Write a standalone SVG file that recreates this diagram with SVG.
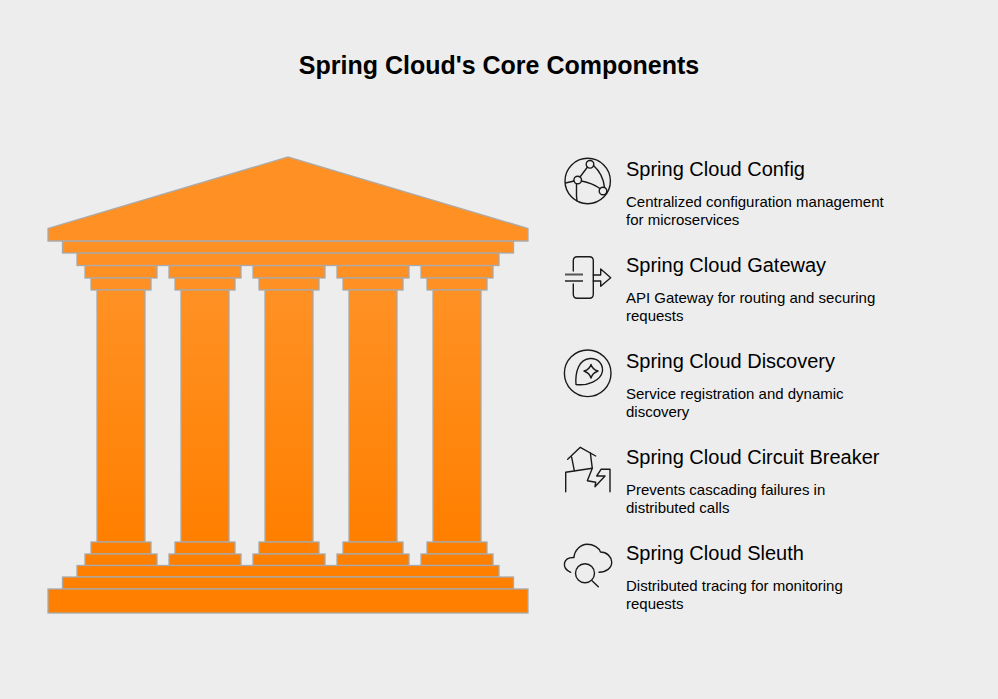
<svg xmlns="http://www.w3.org/2000/svg" width="998" height="699" viewBox="0 0 998 699">
<style>
text{font-family:"Liberation Sans",Arial,sans-serif;fill:#000}
.t{font-size:25px;font-weight:700}
.h{font-size:20px}
.d{font-size:15px}
.top{fill:#ff9124;stroke:#aaa;stroke-width:1.3}
.bot{fill:#ff7f00;stroke:#aaa;stroke-width:1.3}
.col{fill:url(#g);stroke:#aaa;stroke-width:1.3}
.i{fill:none;stroke:#1a1a1a;stroke-width:1.4;stroke-linecap:round;stroke-linejoin:round}
</style>
<defs>
<linearGradient id="g" x1="0" y1="0" x2="0" y2="1"><stop offset="0" stop-color="#ff9124"/><stop offset="1" stop-color="#ff7f00"/></linearGradient>
<g id="c1"><rect class="top" x="85" y="265.500" width="72" height="12.500"/><rect class="top" x="91" y="278" width="60" height="12"/><rect class="col" x="97" y="290" width="48" height="252"/><rect class="bot" x="91" y="542" width="60" height="12"/><rect class="bot" x="85" y="554" width="72" height="11.500"/></g>
</defs>
<rect width="998" height="699" fill="#ededed"/>
<text class="t" x="499" y="74" text-anchor="middle">Spring Cloud's Core Components</text>
<g id="temple">
<use href="#c1"/><use href="#c1" x="84"/><use href="#c1" x="168"/><use href="#c1" x="252"/><use href="#c1" x="336"/>
<rect class="top" x="77" y="253" width="422" height="12.500"/>
<rect class="top" x="62.500" y="241" width="451" height="12"/>
<path class="top" d="M48 241V228.500L288 157L528 228.500V241Z"/>
<rect class="bot" x="77" y="565.500" width="422" height="11.500"/>
<rect class="bot" x="62.500" y="577" width="451" height="12"/>
<rect class="bot" x="48" y="589" width="480" height="24"/>
</g>
<g id="node-config">
<circle class="i" cx="587.700" cy="181" r="22.700"/>
<circle class="i" cx="590" cy="164.300" r="3.800"/><circle class="i" cx="577.700" cy="180" r="3.800"/><circle class="i" cx="603" cy="191" r="3.800"/>
<path class="i" d="M587.500 167L580 177M581.500 181Q592 183 600 188.500M593.500 165.500Q603 174 604.500 187.300M574 181L565.500 183M576.500 184V196L577 201"/>
<text class="h" x="626" y="176">Spring Cloud Config</text>
<text class="d" x="626" y="207">Centralized configuration management</text>
<text class="d" x="626" y="225">for microservices</text>
</g>
<g id="node-gateway">
<path class="i" d="M573.300 271V260.700Q573.300 256.700 577.300 256.700H589.300Q593.300 256.700 593.300 260.700V294.300Q593.300 298.300 589.300 298.300H577.300Q573.300 298.300 573.300 294.300V284"/>
<path d="M565 274.500H583M565 281H583" fill="none" stroke="#555" stroke-width="1.800"/>
<path class="i" d="M593.300 275H600.700V269L610.700 277.700L600.700 286.300V281H593.300"/>
<text class="h" x="626" y="272">Spring Cloud Gateway</text>
<text class="d" x="626" y="303">API Gateway for routing and securing</text>
<text class="d" x="626" y="321">requests</text>
</g>
<g id="node-discovery">
<circle class="i" cx="587.700" cy="373.300" r="23.300"/>
<path class="i" d="M576 384.500C575 372 579 359 590 358.500C598 358 603 364 602.500 371C601 381 587 386 576 384.500Z"/>
<path class="i" d="M591 364.500C592 368 594 370 598 371C594 372.500 592 374.500 591 378C590 374.500 588 372.500 584 371C588 370 590 368 591 364.500Z"/>
<text class="h" x="626" y="368">Spring Cloud Discovery</text>
<text class="d" x="626" y="399">Service registration and dynamic</text>
<text class="d" x="626" y="417">discovery</text>
</g>
<g id="node-breaker">
<path class="i" d="M567.700 459.300L580.300 447.300L595.700 456M571.700 457.300L574.300 470.700M590.300 452.700L592.300 468.300"/>
<path class="i" d="M565.700 491.700V472.300L592.300 468.300L587.300 480.700L595.700 482.300L595 486.700L605 476H596.700L601 469.300H610V491.700"/>
<text class="h" x="626" y="464">Spring Cloud Circuit Breaker</text>
<text class="d" x="626" y="495">Prevents cascading failures in</text>
<text class="d" x="626" y="513">distributed calls</text>
</g>
<g id="node-sleuth">
<path class="i" d="M570.700 572.300C565.500 570 564 566 564.500 563C565.500 559 569 557.300 574 557.500C574.500 550 581 544.300 587 544.300C594 544.300 599 548 600.500 552C607 552 611.500 557 611.700 562C612 568 606 572.300 599 572.300"/>
<circle class="i" cx="585" cy="573.300" r="9.500"/>
<path class="i" d="M592.300 581L598.300 586.700"/>
<text class="h" x="626" y="560">Spring Cloud Sleuth</text>
<text class="d" x="626" y="591">Distributed tracing for monitoring</text>
<text class="d" x="626" y="609">requests</text>
</g>
</svg>
